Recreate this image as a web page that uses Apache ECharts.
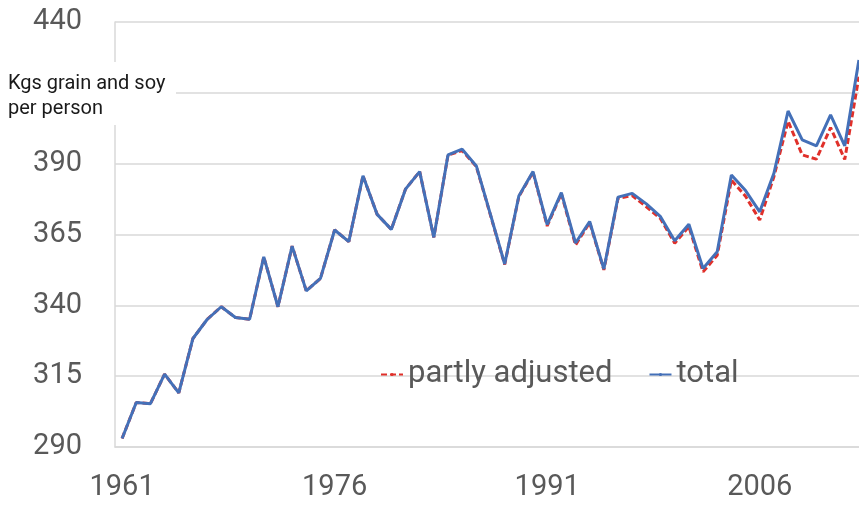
<!DOCTYPE html>
<html>
<head>
<meta charset="utf-8">
<script src="https://cdn.jsdelivr.net/npm/echarts@6/dist/echarts.min.js"></script>
<style>
  html, body { margin: 0; padding: 0; background: #fff; }
  #chart { width: 859px; height: 507px; }
</style>
</head>
<body>
<div id="chart"></div>
<script>
// years on the x axis
const years = [];
for (let y = 1961; y <= 2013; y++) years.push(String(y));

// kgs grain and soy per person
const total = [
  293.0, 305.7, 305.3, 315.7, 309.1, 328.3, 335.0, 339.5, 335.7, 335.1,
  357.1, 339.5, 360.9, 345.1, 349.5, 366.6, 362.5, 385.7, 372.1, 366.8,
  381.0, 387.2, 364.0, 393.1, 395.1, 389.2, 372.0, 354.6, 378.6, 387.2,
  368.5, 379.8, 362.0, 369.6, 352.8, 378.2, 379.5, 375.8, 371.3, 362.8,
  368.6, 353.0, 358.9, 386.0, 380.5, 373.0, 386.6, 408.6, 398.4, 396.3,
  407.2, 396.3, 426.6
];
const partlyAdjusted = [
  293.0, 305.7, 305.3, 315.7, 309.1, 328.3, 335.0, 339.5, 335.7, 335.1,
  357.1, 339.5, 360.9, 345.1, 349.5, 366.6, 362.5, 385.7, 372.1, 366.8,
  381.0, 387.2, 364.0, 393.0, 394.6, 389.0, 371.8, 354.4, 378.4, 387.0,
  368.0, 379.4, 361.3, 369.2, 352.5, 377.8, 378.7, 374.8, 370.6, 361.9,
  367.8, 351.8, 357.7, 384.2, 378.5, 370.1, 385.4, 405.0, 393.1, 391.6,
  402.7, 391.5, 420.7
];

const font = 'Roboto, "Open Sans", sans-serif';
const chart = echarts.init(document.getElementById('chart'));

chart.setOption({
  animation: false,
  // plot runs past the right edge of the picture, like the cropped original
  grid: { left: 115, width: 751, top: 22, bottom: 60, outerBoundsMode: 'none' },
  legend: {
    data: ['partly adjusted', 'total'],
    left: 375,
    top: 354,
    itemGap: 36,
    itemWidth: 22,
    itemHeight: 4,
    textStyle: { fontFamily: font, fontSize: 31, color: '#595959' }
  },
  xAxis: {
    type: 'category',
    data: years,
    boundaryGap: true,
    axisLine: { lineStyle: { color: '#d9d9d9', width: 1.5 } },
    axisTick: { show: false },
    axisLabel: { interval: 14, margin: 26, fontFamily: font, fontSize: 29, color: '#595959' }
  },
  yAxis: {
    type: 'value',
    min: 290,
    max: 440,
    interval: 25,
    axisLine: { show: true, lineStyle: { color: '#d9d9d9', width: 1.5 } },
    axisTick: { show: false },
    splitLine: { lineStyle: { color: '#d9d9d9', width: 1.5 } },
    axisLabel: { margin: 33, fontFamily: font, fontSize: 29, color: '#595959' }
  },
  graphic: [
    {
      type: 'rect',
      z: 100,
      shape: { x: 0, y: 62, width: 176, height: 63 },
      style: { fill: '#fff' }
    },
    {
      type: 'text',
      z: 101,
      left: 8,
      top: 71,
      style: {
        text: 'Kgs grain and soy\nper person',
        font: '20px ' + font,
        fill: '#1a1a1a',
        lineHeight: 25
      }
    }
  ],
  series: [
    {
      name: 'partly adjusted',
      type: 'line',
      data: partlyAdjusted,
      symbol: 'none',
      itemStyle: { color: '#e0302a' },
      lineStyle: { color: '#e0302a', width: 3, type: [6, 3] }
    },
    {
      name: 'total',
      type: 'line',
      data: total,
      symbol: 'none',
      itemStyle: { color: '#4470b8' },
      lineStyle: { color: '#4470b8', width: 3 }
    }
  ]
});
</script>
</body>
</html>
